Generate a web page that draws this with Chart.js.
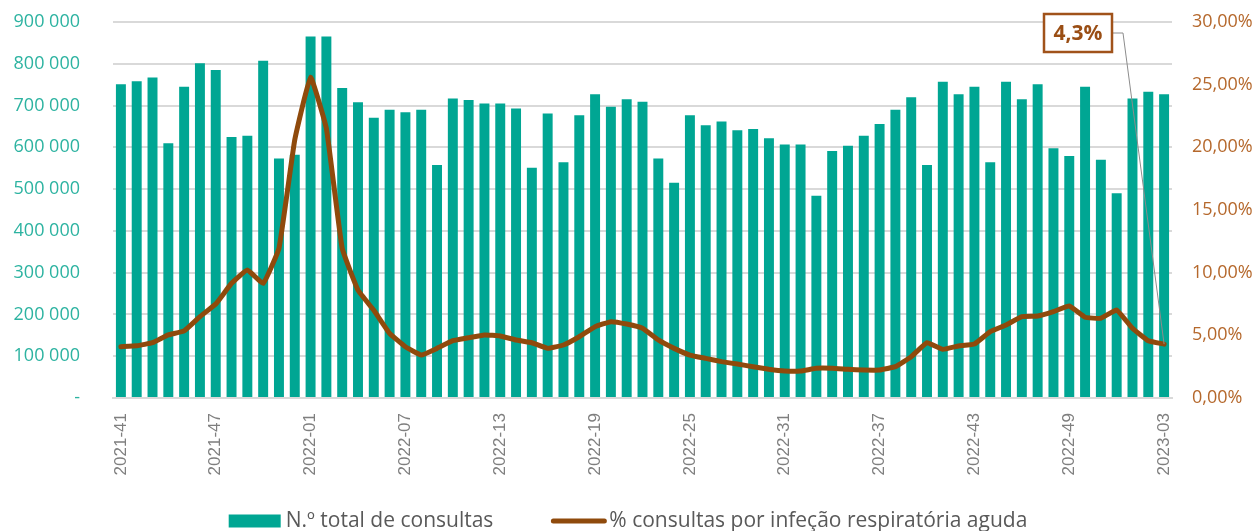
<!DOCTYPE html>
<html>
<head>
<meta charset="utf-8">
<title>Consultas e IRA</title>
<script src="https://cdn.jsdelivr.net/npm/chart.js@4.4.0/dist/chart.umd.min.js"></script>
<style>
  html, body { margin: 0; padding: 0; background: #fff; }
  #wrap { width: 1256px; height: 531px; position: relative; }
</style>
</head>
<body>
<div id="wrap"><canvas id="consultasChart"></canvas></div>
<script>
'use strict';

// semanas (ISO)
const weeks = [
  '2021-41', '2021-42', '2021-43', '2021-44', '2021-45', '2021-46', '2021-47', '2021-48', '2021-49', '2021-50', '2021-51', '2021-52',
  '2022-01', '2022-02', '2022-03', '2022-04', '2022-05', '2022-06', '2022-07', '2022-08', '2022-09', '2022-10', '2022-11', '2022-12',
  '2022-13', '2022-14', '2022-15', '2022-16', '2022-17', '2022-18', '2022-19', '2022-20', '2022-21', '2022-22', '2022-23', '2022-24',
  '2022-25', '2022-26', '2022-27', '2022-28', '2022-29', '2022-30', '2022-31', '2022-32', '2022-33', '2022-34', '2022-35', '2022-36',
  '2022-37', '2022-38', '2022-39', '2022-40', '2022-41', '2022-42', '2022-43', '2022-44', '2022-45', '2022-46', '2022-47', '2022-48',
  '2022-49', '2022-50', '2022-51', '2022-52', '2023-01', '2023-02', '2023-03'
];

// N.º total de consultas
const consultas = [
  751000, 758000, 767000, 610000, 745000, 801000, 785000, 625000, 628000, 807000, 573000, 582000,
  865000, 865000, 742000, 708000, 671000, 690000, 684000, 690000, 558000, 717000, 713000, 705000,
  705000, 693000, 551000, 681000, 564000, 677000, 727000, 697000, 715000, 709000, 573000, 515000,
  677000, 653000, 662000, 641000, 644000, 622000, 607000, 607000, 484000, 591000, 604000, 628000,
  656000, 690000, 720000, 558000, 757000, 727000, 745000, 564000, 757000, 715000, 751000, 598000,
  579000, 745000, 570000, 490000, 717000, 733000, 727000
];

// % consultas por infeção respiratória aguda
const pctIRA = [
  4.09, 4.17, 4.41, 5.03, 5.35, 6.49, 7.5, 9.15, 10.21, 9.15, 11.94, 20.6,
  25.6, 21.5, 11.94, 8.6, 7.0, 5.16, 4.09, 3.43, 3.96, 4.57, 4.81, 5.03,
  4.95, 4.63, 4.41, 3.96, 4.23, 4.89, 5.69, 6.09, 5.9, 5.56, 4.63, 3.96,
  3.43, 3.16, 2.9, 2.71, 2.5, 2.29, 2.15, 2.15, 2.37, 2.37, 2.29, 2.23,
  2.23, 2.5, 3.3, 4.41, 3.88, 4.15, 4.31, 5.29, 5.82, 6.49, 6.54, 6.89,
  7.34, 6.44, 6.36, 7.02, 5.56, 4.57, 4.3
];

const barColor = '#00a693';
const lineColor = '#8f4a0c';

// legenda em baixo, desenhada à mão
const bottomLegend = {
  id: 'bottomLegend',
  afterDraw(chart) {
    const ctx = chart.ctx;
    const y = 521;
    const markW = [52, 55];
    const gap = [5, 3];
    const sep = 58;
    ctx.save();
    ctx.font = '21px "Open Sans"';
    ctx.textBaseline = 'middle';
    ctx.textAlign = 'left';
    const items = chart.data.datasets.map((ds) => ({
      text: ds.label,
      isLine: ds.type === 'line',
      color: ds.type === 'line' ? ds.borderColor : ds.backgroundColor,
      w: ctx.measureText(ds.label).width
    }));
    let total = sep;
    items.forEach((it, i) => { total += markW[i] + gap[i] + it.w; });
    let x = (chart.width - total) / 2;
    items.forEach((it, i) => {
      if (it.isLine) {
        ctx.strokeStyle = it.color;
        ctx.lineWidth = 5;
        ctx.lineCap = 'round';
        ctx.beginPath();
        ctx.moveTo(x + 2, y);
        ctx.lineTo(x + markW[i] - 2, y);
        ctx.stroke();
      } else {
        ctx.fillStyle = it.color;
        ctx.fillRect(x, y - 6.5, markW[i], 13);
      }
      x += markW[i] + gap[i];
      ctx.fillStyle = '#595959';
      ctx.fillText(it.text, x, y);
      x += it.w + sep;
    });
    ctx.restore();
  }
};

// caixa com o último valor
const lastLabel = {
  id: 'lastLabel',
  afterDatasetsDraw(chart) {
    const meta = chart.getDatasetMeta(1);
    const pt = meta.data[meta.data.length - 1];
    const { ctx, chartArea } = chart;
    const bw = 68, bh = 38;
    const bx = chartArea.right - 128, by = 14;
    ctx.save();
    ctx.strokeStyle = '#8c8c8c';
    ctx.lineWidth = 1;
    ctx.beginPath();
    ctx.moveTo(bx + bw, by + bh / 2);
    ctx.lineTo(bx + bw + 11, by + bh / 2);
    ctx.lineTo(pt.x, pt.y);
    ctx.stroke();
    ctx.fillStyle = '#fff';
    ctx.fillRect(bx, by, bw, bh);
    ctx.strokeStyle = '#a0521a';
    ctx.lineWidth = 2.5;
    ctx.strokeRect(bx, by, bw, bh);
    const v = pctIRA[pctIRA.length - 1];
    ctx.font = 'bold 21px "Open Sans"';
    ctx.fillStyle = '#9a4e14';
    ctx.textAlign = 'center';
    ctx.textBaseline = 'middle';
    ctx.fillText(v.toFixed(1).replace('.', ',') + '%', bx + bw / 2, by + bh / 2 + 1);
    ctx.restore();
  }
};

function fmtMilhares(v) {
  if (v === 0) return '-';
  return String(v).replace(/\B(?=(\d{3})+(?!\d))/g, ' ');
}

// largura fixa dos eixos verticais, sem folga extra em cima/baixo
function fixVertical(width) {
  return (scale) => {
    scale.width = width;
    scale.paddingTop = 0;
    scale.paddingBottom = 0;
  };
}

document.addEventListener('DOMContentLoaded', () => {
  const ctx = document.getElementById('consultasChart');
  new Chart(ctx, {
    type: 'bar',
    data: {
      labels: weeks,
      datasets: [
        {
          type: 'bar',
          label: 'N.º total de consultas',
          data: consultas,
          backgroundColor: barColor,
          yAxisID: 'y',
          categoryPercentage: 1,
          barPercentage: 0.63,
          order: 2
        },
        {
          type: 'line',
          label: '% consultas por infeção respiratória aguda',
          data: pctIRA,
          borderColor: lineColor,
          borderWidth: 5,
          borderJoinStyle: 'round',
          borderCapStyle: 'round',
          pointRadius: 0,
          tension: 0.1,
          yAxisID: 'y1',
          order: 1
        }
      ]
    },
    options: {
      responsive: true,
      maintainAspectRatio: false,
      animation: false,
      layout: { padding: { top: 22, bottom: 0, left: 0, right: 0 } },
      plugins: {
        legend: { display: false },
        tooltip: { enabled: false }
      },
      scales: {
        x: {
          offset: true,
          grid: { display: false, drawTicks: false },
          border: { display: true, color: '#d9d9d9', width: 2 },
          ticks: {
            autoSkip: false,
            maxRotation: 90,
            minRotation: 90,
            padding: 15,
            color: '#7f7f7f',
            font: { family: '"Liberation Sans", Arial, sans-serif', size: 17 },
            callback(value, index) {
              return index % 6 === 0 ? this.getLabelForValue(value) : '';
            }
          },
          afterFit(scale) {
            scale.height = 133;
            scale.paddingLeft = 0;
            scale.paddingRight = 0;
          }
        },
        y: {
          position: 'left',
          min: 0,
          max: 900000,
          grid: { color: '#d9d9d9', lineWidth: 2, drawTicks: false },
          border: { display: false },
          ticks: {
            stepSize: 100000,
            padding: 33,
            color: '#2db3a1',
            font: { family: '"Open Sans"', size: 18 },
            callback: (v) => fmtMilhares(v)
          },
          afterFit: fixVertical(113)
        },
        y1: {
          position: 'right',
          min: 0,
          max: 30,
          grid: { display: false, drawTicks: false },
          border: { display: false },
          ticks: {
            stepSize: 5,
            padding: 20,
            color: '#b5682c',
            font: { family: '"Open Sans"', size: 18 },
            callback: (v) => v.toFixed(2).replace('.', ',') + '%'
          },
          afterFit: fixVertical(84)
        }
      }
    },
    plugins: [lastLabel, bottomLegend]
  });
});
</script>
</body>
</html>
